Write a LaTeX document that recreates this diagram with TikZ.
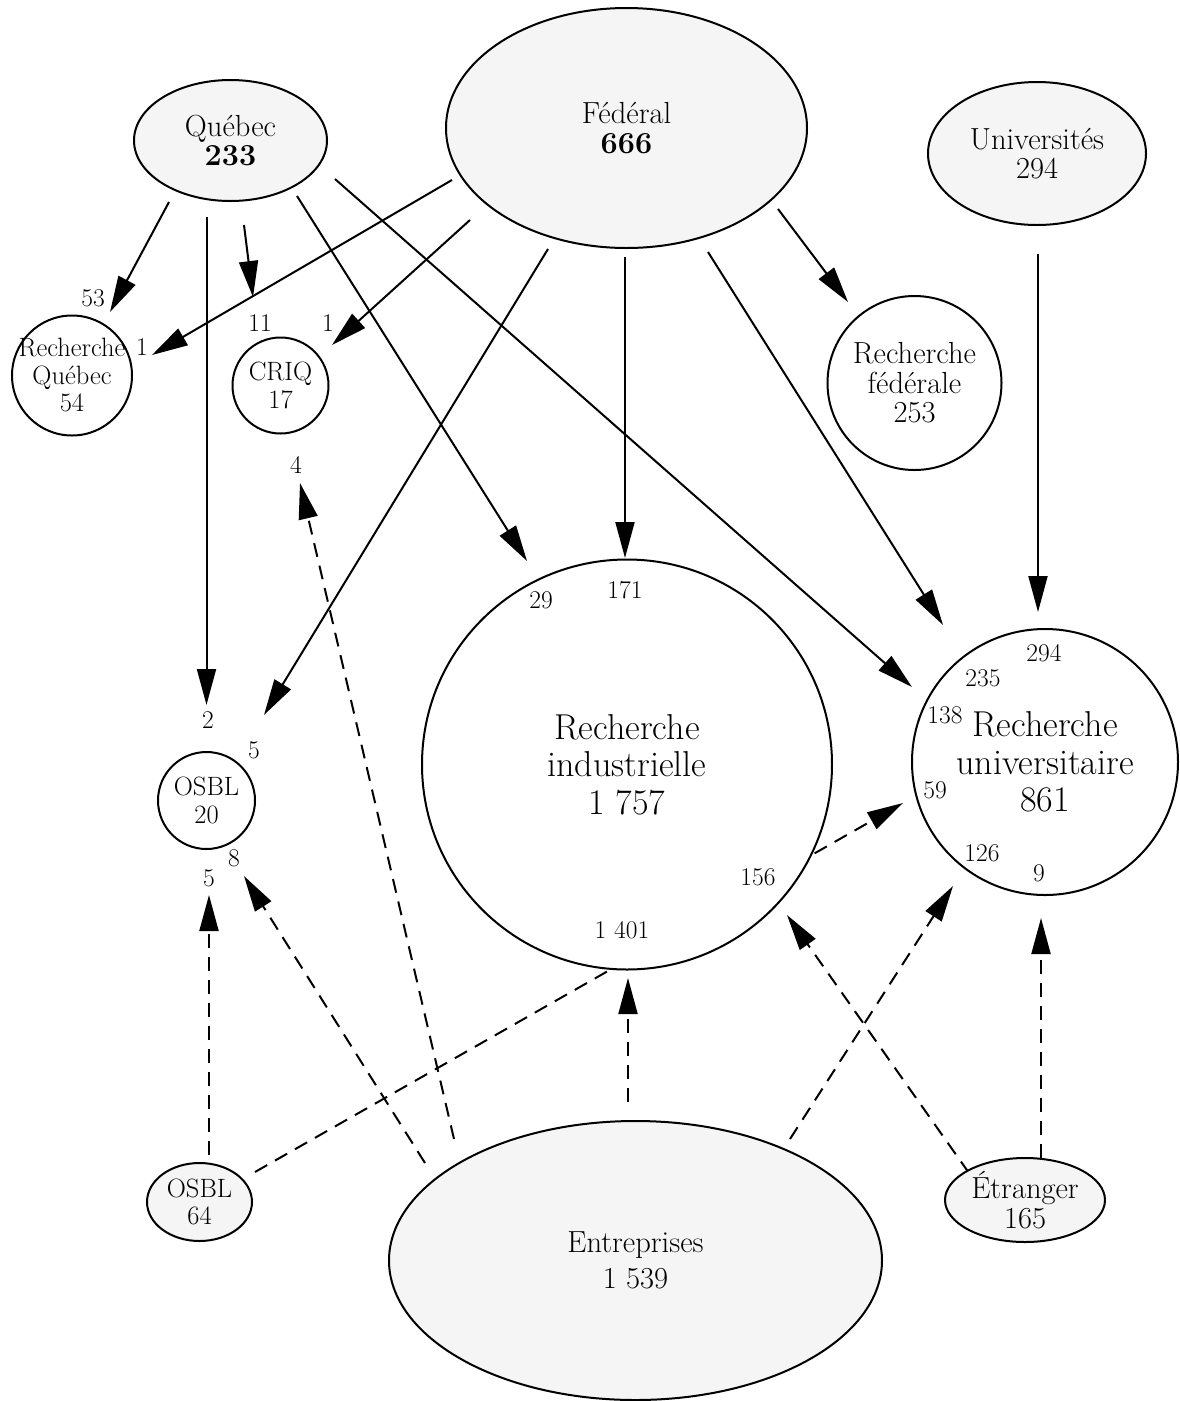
\documentclass[tikz,border=0pt]{standalone}
\usepackage{fontspec}
\usetikzlibrary{arrows.meta,shapes.geometric}
\definecolor{nodefill}{RGB}{245,245,245}
\pgfdeclarelayer{bg}
\pgfsetlayers{bg,main}
\tikzset{
  src/.style={ellipse, draw, line width=2pt, fill=nodefill, inner sep=0pt, align=center,
    font=\fontsize{30.5}{29.5}\selectfont},
  dst/.style={circle, draw, line width=2pt, fill=white, inner sep=0pt, align=center,
    font=\fontsize{30.5}{29.5}\selectfont},
  bigtxt/.style={font=\fontsize{36}{37.5}\selectfont},
  smalltxt/.style={font=\fontsize{26.5}{27.5}\selectfont},
  wideskip/.style={font=\fontsize{30.5}{36}\selectfont},
  lbl/.style={inner sep=0pt, font=\fontsize{25.5}{27}\selectfont},
  flow/.style={line width=2pt, -{Triangle[length=36pt,width=19pt]}},
  dflow/.style={flow, dash pattern=on 14pt off 9pt},
}
\begin{document}
\begin{tikzpicture}[x=1pt,y=-1pt]
\useasboundingbox (0,0) rectangle (1179,1401);

% ---------- nodes ----------
\node[src, minimum width=193pt, minimum height=121pt] (qc) at (230.5,140.5) {Québec\\\textbf{233}};
\node[src, minimum width=361pt, minimum height=240pt] (fed) at (626.5,128) {Fédéral\\\textbf{666}};
\node[src, minimum width=218pt, minimum height=143pt] (univ) at (1037,153.5) {Universités\\294};
\node[dst, minimum size=120pt,
  label={[inner sep=0pt, align=center, font=\fontsize{26.5}{27.5}\selectfont]center:Recherche\\Québec\\54}]
  (rq) at (72,375.5) {};
\node[dst, smalltxt, minimum size=96pt] (criq) at (280.5,385.5) {CRIQ\\17};
\node[dst, minimum size=174pt] (rf) at (914.5,383) {Recherche\\fédérale\\253};
\node[dst, bigtxt, minimum size=410pt] (ri) at (627,764.5) {Recherche\\industrielle\\1~757};
\node[dst, bigtxt, minimum size=266pt] (ru) at (1045,762) {Recherche\\universitaire\\861};
\node[dst, smalltxt, minimum size=97pt] (osbl) at (206.5,800.5) {OSBL\\20};
\node[src, smalltxt, minimum width=105pt, minimum height=78pt] (osblb) at (199.5,1202) {OSBL\\64};
\node[src, wideskip, minimum width=493pt, minimum height=279pt] (ent) at (635.5,1260.5) {Entreprises\\1~539};
\node[src, minimum width=160pt, minimum height=84pt] (etr) at (1025,1200) {Étranger\\165};

% ---------- connector end points ----------
\coordinate (qc-rq-a) at (169,202);   \coordinate (qc-rq-b) at (110,312);
\coordinate (qc-os-a) at (206.5,217); \coordinate (qc-os-b) at (206.5,705);
\coordinate (qc-cr-a) at (244,225);   \coordinate (qc-cr-b) at (253,297);
\coordinate (qc-ri-a) at (297,196);   \coordinate (qc-ri-b) at (527,561);
\coordinate (qc-ru-a) at (335,179);   \coordinate (qc-ru-b) at (912,687);
\coordinate (fe-rq-a) at (452,180);   \coordinate (fe-rq-b) at (152,355);
\coordinate (fe-cr-a) at (470,220);   \coordinate (fe-cr-b) at (332,345);
\coordinate (fe-os-a) at (548,249);   \coordinate (fe-os-b) at (264,715);
\coordinate (fe-ri-a) at (625,257);   \coordinate (fe-ri-b) at (625,558);
\coordinate (fe-ru-a) at (708,252);   \coordinate (fe-ru-b) at (943,625);
\coordinate (fe-rf-a) at (778,209);   \coordinate (fe-rf-b) at (848,302);
\coordinate (un-ru-a) at (1038,254);  \coordinate (un-ru-b) at (1038,612);
\coordinate (ob-ru-a) at (255,1172);  \coordinate (ob-ru-b) at (903,803);
\coordinate (en-ru-a) at (790,1139);  \coordinate (en-ru-b) at (953,886);
\coordinate (et-ri-a) at (969,1173);  \coordinate (et-ri-b) at (787,915);
\coordinate (et-ru-a) at (1041,1158); \coordinate (et-ru-b) at (1041,918);
\coordinate (en-ri-a) at (628,1102);  \coordinate (en-ri-b) at (628,978);
\coordinate (en-cr-a) at (454,1139);  \coordinate (en-cr-b) at (300,483);
\coordinate (en-os-a) at (425,1163);  \coordinate (en-os-b) at (244,876);
\coordinate (ob-os-a) at (209,1155);  \coordinate (ob-os-b) at (209,895);

% ---------- connectors ----------
\begin{pgfonlayer}{bg}
\draw[flow] (qc-rq-a) -- (qc-rq-b);
\draw[flow] (qc-os-a) -- (qc-os-b);
\draw[flow] (qc-cr-a) -- (qc-cr-b);
\draw[flow] (qc-ri-a) -- (qc-ri-b);
\draw[flow] (qc-ru-a) -- (qc-ru-b);
\draw[flow] (fe-rq-a) -- (fe-rq-b);
\draw[flow] (fe-cr-a) -- (fe-cr-b);
\draw[flow] (fe-os-a) -- (fe-os-b);
\draw[flow] (fe-ri-a) -- (fe-ri-b);
\draw[flow] (fe-ru-a) -- (fe-ru-b);
\draw[flow] (fe-rf-a) -- (fe-rf-b);
\draw[flow] (un-ru-a) -- (un-ru-b);
\draw[dflow] (ob-ru-a) -- (ob-ru-b);
\draw[dflow] (en-ru-a) -- (en-ru-b);
\draw[dflow] (et-ri-a) -- (et-ri-b);
\draw[dflow] (et-ru-a) -- (et-ru-b);
\draw[dflow] (en-ri-a) -- (en-ri-b);
\draw[dflow] (en-cr-a) -- (en-cr-b);
\draw[dflow] (en-os-a) -- (en-os-b);
\draw[dflow] (ob-os-a) -- (ob-os-b);
\end{pgfonlayer}

% ---------- flow labels ----------
\node[lbl] (l-qc-rq) at (93,298) {53};
\node[lbl] (l-qc-os) at (208,720) {2};
\node[lbl] (l-qc-cr) at (260,323) {11};
\node[lbl] (l-qc-ri) at (541,600) {29};
\node[lbl] (l-qc-ru) at (945,715) {138};
\node[lbl] (l-fe-rq) at (142,347) {1};
\node[lbl] (l-fe-cr) at (328,323) {1};
\node[lbl] (l-fe-os) at (254,750) {5};
\node[lbl] (l-fe-ri) at (625,590) {171};
\node[lbl] (l-fe-ru) at (983,678) {235};
\node[lbl] (l-un-ru) at (1044,653) {294};
\node[lbl] (l-ob-ru) at (935,790) {59};
\node[lbl] (l-en-ru) at (982,853) {126};
\node[lbl] (l-et-ri) at (758,877) {156};
\node[lbl] (l-et-ru) at (1039,873) {9};
\node[lbl] (l-en-ri) at (622,930) {1~401};
\node[lbl] (l-en-cr) at (296,465) {4};
\node[lbl] (l-en-os) at (234,858) {8};
\node[lbl] (l-ob-os) at (209,878) {5};
\end{tikzpicture}
\end{document}
